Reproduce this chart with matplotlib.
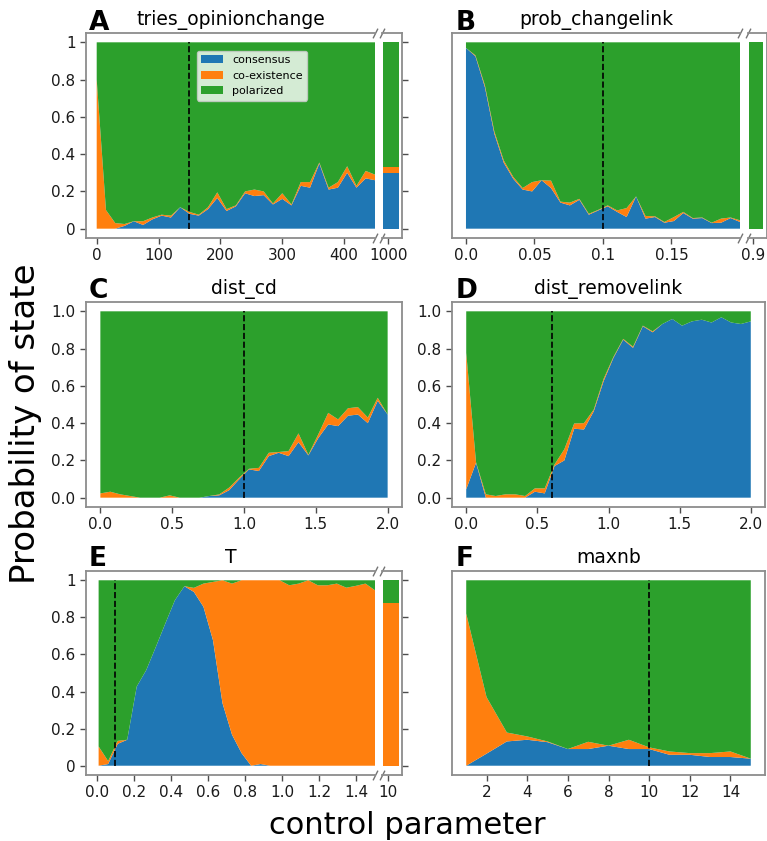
import numpy as np
import matplotlib
matplotlib.use('Agg')
import matplotlib.pyplot as plt

# ---------------- data ----------------
LABELS = ['consensus', 'co-existence', 'polarized']
COLORS = ['#1f77b4', '#ff7f0e', '#2ca02c']

# A: tries_opinionchange
a_x = np.arange(0, 451, 15)
a_cons = [0.00, 0.00, 0.00, 0.015, 0.04, 0.02, 0.05, 0.07, 0.06, 0.115, 0.08,
          0.07, 0.105, 0.165, 0.095, 0.12, 0.19, 0.175, 0.18, 0.13, 0.16,
          0.125, 0.23, 0.22, 0.35, 0.21, 0.22, 0.30, 0.22, 0.27, 0.26]
a_coex = [0.80, 0.10, 0.03, 0.01, 0.00, 0.02, 0.01, 0.005, 0.01, 0.00, 0.01,
          0.005, 0.01, 0.03, 0.01, 0.005, 0.01, 0.035, 0.02, 0.005, 0.03,
          0.005, 0.02, 0.03, 0.005, 0.01, 0.03, 0.035, 0.01, 0.04, 0.03]
a_far_x, a_far_cons, a_far_coex = 1000, 0.30, 0.03

# B: prob_changelink
b_x = np.linspace(0, 0.2, 30)
b_cons = [0.97, 0.925, 0.76, 0.51, 0.354, 0.268, 0.21, 0.20, 0.26, 0.218,
          0.14, 0.125, 0.155, 0.075, 0.098, 0.12, 0.09, 0.0625, 0.173, 0.054,
          0.0625, 0.032, 0.041, 0.084, 0.054, 0.057, 0.03, 0.032, 0.057, 0.036]
b_coex = [0.0, 0.005, 0.01, 0.012, 0.012, 0.01, 0.008, 0.05, 0.0, 0.04,
          0.005, 0.015, 0.005, 0.005, 0.003, 0.005, 0.008, 0.048, 0.0, 0.014,
          0.004, 0.004, 0.021, 0.006, 0.003, 0.003, 0.002, 0.022, 0.003, 0.009]
b_far_x, b_far_cons, b_far_coex = 0.9, 0.0, 0.0

# C: dist_cd
c_x = np.linspace(0, 2, 30)
c_cons = [0, 0, 0, 0, 0, 0, 0, 0, 0, 0, 0, 0.009, 0.0125, 0.04, 0.098,
          0.152, 0.143, 0.223, 0.241, 0.223, 0.298, 0.227, 0.32, 0.393,
          0.384, 0.44, 0.446, 0.40, 0.52, 0.446]
c_coex = [0.023, 0.032, 0.018, 0.009, 0, 0, 0, 0.0125, 0, 0, 0, 0, 0.005,
          0.014, 0.009, 0.003, 0.017, 0.018, 0.004, 0.027, 0.047, 0.003,
          0.02, 0.062, 0.036, 0.04, 0.04, 0.03, 0.016, 0.0]

# D: dist_removelink
d_x = np.linspace(0, 2, 30)
d_cons = [0.045, 0.1875, 0, 0, 0, 0, 0, 0.032, 0.023, 0.17, 0.20, 0.37,
          0.366, 0.464, 0.625, 0.75, 0.848, 0.804, 0.92, 0.8875, 0.932,
          0.959, 0.923, 0.946, 0.955, 0.94, 0.968, 0.94, 0.932, 0.946]
d_coex = [0.732, 0.0025, 0.018, 0.009, 0.018, 0.018, 0.009, 0.018, 0.027,
          0.008, 0.06, 0.028, 0.034, 0.009, 0.0125, 0.005, 0.004, 0.006,
          0.003, 0.005, 0, 0, 0, 0, 0, 0, 0, 0, 0, 0]

# E: T
e_x = np.linspace(0.01, 1.5, 30)
e_cons = [0, 0.009, 0.118, 0.14, 0.427, 0.516, 0.64, 0.767, 0.892, 0.968,
          0.937, 0.857, 0.677, 0.337, 0.167, 0.068, 0, 0.009, 0, 0, 0, 0,
          0, 0, 0, 0, 0, 0, 0, 0]
e_coex = [0.104, 0.016, 0.016, 0.0, 0, 0, 0, 0, 0, 0, 0.022, 0.125, 0.314,
          0.663, 0.815, 0.932, 1.0, 0.991, 1.0, 1.0, 0.973, 0.982, 1.0,
          0.973, 0.973, 0.982, 0.96, 0.97, 0.982, 0.946]
e_far_x, e_far_cons, e_far_coex = 10, 0.0, 0.88

# F: maxnb
f_x = np.arange(1, 16)
f_cons = [0, 0.065, 0.131, 0.14, 0.127, 0.09, 0.09, 0.108, 0.09, 0.09,
          0.059, 0.059, 0.047, 0.047, 0.038]
f_coex = [0.82, 0.305, 0.048, 0.018, 0.004, 0, 0.039, 0, 0.05, 0.009,
          0.018, 0.009, 0.021, 0.03, 0]

# reference (default) values: dashed lines
ref = {'A': 150, 'B': 0.1, 'C': 1.0, 'D': 0.6, 'E': 0.1, 'F': 10}

# ---------------- helpers ----------------
W, H = 767, 841
fig = plt.figure(figsize=(W / 100, H / 100), dpi=100)


def px_axes(x0, x1, y0, y1):
    return fig.add_axes([x0 / W, 1 - y1 / H, (x1 - x0) / W, (y1 - y0) / H])


def stack(ax, x, cons, coex, labels=True):
    cons = np.asarray(cons, float)
    coex = np.asarray(coex, float)
    pol = 1 - cons - coex
    kw = dict(colors=COLORS)
    if labels:
        kw['labels'] = LABELS
    ax.stackplot(x, cons, coex, pol, **kw)


def style(ax):
    for s in ax.spines.values():
        s.set_color('0.55')
        s.set_linewidth(1.3)
    ax.tick_params(colors='0.3', labelcolor='0.1', labelsize=11,
                   width=1.0, length=4)
    ax.set_ylim(-0.05, 1.05)


YT = [0, 0.2, 0.4, 0.6, 0.8, 1.0]
YL_short = ['0', '0.2', '0.4', '0.6', '0.8', '1']
YL_long = ['0.0', '0.2', '0.4', '0.6', '0.8', '1.0']


def breaks(ax_main, ax_far):
    kw = dict(marker=[(-0.5, -1), (0.5, 1)], markersize=7, linestyle='none',
              color='0.45', mec='0.45', mew=1, clip_on=False)
    ax_main.plot([1, 1], [0, 1], transform=ax_main.transAxes, **kw)
    ax_far.plot([0, 0], [0, 1], transform=ax_far.transAxes, **kw)


def far_axes(ax_main, x0, x1, y0, y1, far_x, cons, coex, scale, label,
             right_ticks=True):
    ax2 = px_axes(x0, x1, y0, y1)
    fx = [far_x - 5 * scale, far_x + 11 * scale]
    stack(ax2, fx, [cons, cons], [coex, coex], labels=False)
    ax2.set_xlim(far_x - 6.3 * scale, far_x + 14.3 * scale)
    style(ax2)
    ax2.set_xticks([far_x])
    ax2.set_xticklabels([label])
    ax2.spines['left'].set_visible(False)
    ax_main.spines['right'].set_visible(False)
    if right_ticks:
        ax2.yaxis.tick_right()
        ax2.set_yticks(YT)
        ax2.set_yticklabels([])
    else:
        ax2.set_yticks([])
    breaks(ax_main, ax2)
    return ax2


def dashed(ax, x):
    ax.vlines(x, 0, 1, colors='k', linestyles='--', linewidth=1.2, zorder=5)


TITLE_FS = 13.5
LETTER_FS = 19


def letter(txt, x, y):
    fig.text(x / W, 1 - y / H, txt, fontsize=LETTER_FS, fontweight='bold',
             ha='left', va='baseline')


# ---------------- Panel A ----------------
axA = px_axes(86, 375, 33, 238)
stack(axA, a_x, a_cons, a_coex)
style(axA)
axA.set_xlim(-17.3, 450)
axA.set_xticks([0, 100, 200, 300, 400])
axA.set_yticks(YT)
axA.set_yticklabels(YL_short)
dashed(axA, ref['A'])
axA.set_title('tries_opinionchange', fontsize=TITLE_FS)
axA.legend(loc='upper left', bbox_to_anchor=(0.383, 0.914), borderaxespad=0,
           fontsize=8)
far_axes(axA, 382, 402.3, 33, 238, a_far_x, a_far_cons, a_far_coex, 1.0,
         '1000')
letter('A', 89, 30)

# ---------------- Panel B ----------------
axB = px_axes(452, 740, 33, 238)
stack(axB, b_x, b_cons, b_coex)
style(axB)
axB.set_xlim(-0.0102, 0.2)
axB.set_xticks([0, 0.05, 0.1, 0.15])
axB.set_xticklabels(['0.0', '0.05', '0.1', '0.15'])
axB.set_yticks([])
dashed(axB, ref['B'])
axB.set_title('prob_changelink', fontsize=TITLE_FS)
far_axes(axB, 747.5, 766.5, 33, 238, b_far_x, b_far_cons, b_far_coex, 0.001,
         '0.9', right_ticks=False)
letter('B', 455.5, 30)

# ---------------- Panel C ----------------
axC = px_axes(86, 402, 302, 507)
stack(axC, c_x, c_cons, c_coex)
style(axC)
axC.set_xlim(-0.1, 2.1)
axC.set_xticks([0, 0.5, 1.0, 1.5, 2.0])
axC.set_yticks(YT)
axC.set_yticklabels(YL_long)
dashed(axC, ref['C'])
axC.set_title('dist_cd', fontsize=TITLE_FS)
letter('C', 89, 298)

# ---------------- Panel D ----------------
axD = px_axes(452, 765, 302, 507)
stack(axD, d_x, d_cons, d_coex)
style(axD)
axD.set_xlim(-0.1, 2.1)
axD.set_xticks([0, 0.5, 1.0, 1.5, 2.0])
axD.set_yticks(YT)
axD.set_yticklabels(YL_long)
dashed(axD, ref['D'])
axD.set_title('dist_removelink', fontsize=TITLE_FS)
letter('D', 455.5, 298)

# ---------------- Panel E ----------------
axE = px_axes(86, 375, 571, 775)
stack(axE, e_x, e_cons, e_coex)
style(axE)
axE.set_xlim(-0.058, 1.5)
axE.set_xticks([0, 0.2, 0.4, 0.6, 0.8, 1.0, 1.2, 1.4])
axE.set_yticks(YT)
axE.set_yticklabels(YL_short)
dashed(axE, ref['E'])
axE.set_title('T', fontsize=TITLE_FS)
far_axes(axE, 382, 402.3, 571, 775, e_far_x, e_far_cons, e_far_coex, 0.05,
         '10')
letter('E', 89, 566)

# ---------------- Panel F ----------------
axF = px_axes(452, 765, 571, 775)
stack(axF, f_x, f_cons, f_coex)
style(axF)
axF.set_xlim(0.3, 15.7)
axF.set_xticks([2, 4, 6, 8, 10, 12, 14])
axF.set_yticks([])
dashed(axF, ref['F'])
axF.set_title('maxnb', fontsize=TITLE_FS)
letter('F', 455.5, 566)

# ---------------- global labels ----------------
fig.text(26 / W, 1 - 424 / H, 'Probability of state', rotation=90,
         fontsize=24.5, ha='center', va='center')
fig.text(407.5 / W, 1 - 834 / H, 'control parameter', fontsize=22,
         ha='center', va='baseline')

fig.savefig('out.png', dpi=100)
